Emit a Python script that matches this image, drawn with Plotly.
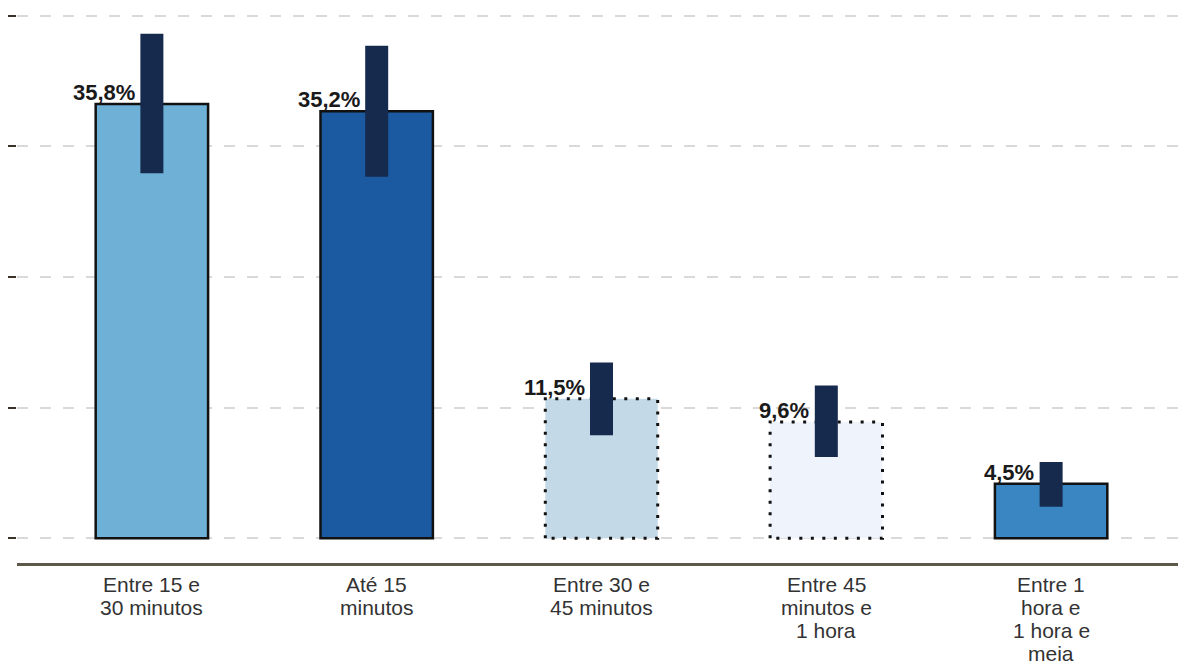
import plotly.graph_objects as go

# ---- data ----
categories = ["Entre 15 e<br>30 minutos", "Até 15<br>minutos", "Entre 30 e<br>45 minutos",
              "Entre 45<br>minutos e<br>1 hora", "Entre 1<br>hora e<br>1 hora e<br>meia"]
values = [35.8, 35.2, 11.5, 9.6, 4.5]
labels = ["35,8%", "35,2%", "11,5%", "9,6%", "4,5%"]
ci_lower = [30.1, 29.8, 8.5, 6.7, 2.6]
ci_upper = [41.6, 40.6, 14.5, 12.6, 6.3]
grid_ticks = [0, 10.77, 21.54, 32.31, 43.08]

# ---- styles ----
fill_colors = ["#6eb0d6", "#1b5aa0", "#c3d9e8", "#eef3fc", "#3a86c2"]
dotted = [False, False, True, True, False]
err_color = "#162a4e"
bar_w = 0.5
err_w_px = 23
font = "Liberation Sans, Arial, sans-serif"

idx = list(range(len(categories)))

fig = go.Figure()

# bar fills (solid outlined ones get a normal border)
fig.add_trace(go.Bar(
    x=idx, y=values, width=bar_w,
    marker=dict(color=fill_colors,
                line=dict(color=["#111111" if not d else "rgba(0,0,0,0)" for d in dotted],
                          width=2.5)),
    hoverinfo="skip", showlegend=False))

# dotted outlines
ox, oy = [], []
for i, v, d in zip(idx, values, dotted):
    if d:
        h = bar_w / 2
        ox += [i - h, i - h, i + h, i + h, i - h, None]
        oy += [0, v, v, 0, 0, None]
fig.add_trace(go.Scatter(x=ox, y=oy, mode="lines",
                         line=dict(color="#111111", width=3, dash="3px,8.5px"),
                         hoverinfo="skip", showlegend=False))

# confidence interval bars
ex, ey = [], []
for i, lo, hi in zip(idx, ci_lower, ci_upper):
    ex += [i, i, None]
    ey += [lo, hi, None]
fig.add_trace(go.Scatter(x=ex, y=ey, mode="lines",
                         line=dict(color=err_color, width=err_w_px),
                         hoverinfo="skip", showlegend=False))

annotations = []
for i, v, t in zip(idx, values, labels):
    annotations.append(dict(x=i, y=v, xref="x", yref="y", text=f"<b>{t}</b>",
                             showarrow=False, xanchor="right", yanchor="bottom",
                             xshift=-15, yshift=-3,
                             font=dict(family=font, size=22, color="#1a1a1a")))
for i, c in zip(idx, categories):
    for k, line in enumerate(c.split("<br>")):
        annotations.append(dict(x=i, y=0, xref="x", yref="paper", text=line,
                                showarrow=False, xanchor="center", yanchor="top",
                                yshift=-8 - 23 * k,
                                font=dict(family=font, size=21, color="#333333")))

# page body has an 8px default margin: figure is sized to fill the rest of the window
fig.update_layout(
    width=1178, height=657,
    margin=dict(l=9, r=0, t=0, b=102),
    paper_bgcolor="white", plot_bgcolor="white",
    barmode="overlay",
    showlegend=False,
    annotations=annotations,
    xaxis=dict(range=[-0.6, 4.6], showgrid=False, zeroline=False,
               showticklabels=False, ticks="",
               showline=True, linecolor="#5e584b", linewidth=2.5),
    yaxis=dict(range=[-2.03, 43.72], tickvals=grid_ticks, showticklabels=False,
               ticks="outside", ticklen=9, tickwidth=2, tickcolor="#3a3226",
               showgrid=True, gridcolor="#d9d9d9", gridwidth=2, griddash="11px,12px",
               zeroline=False, showline=False, automargin=False),
)

fig.write_html("out.html")
